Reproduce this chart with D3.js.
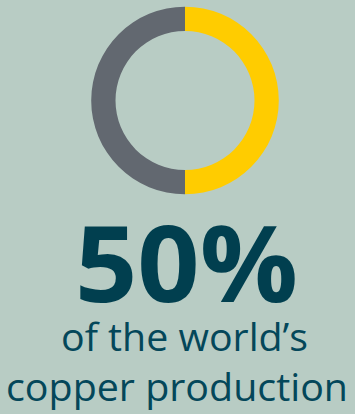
<!DOCTYPE html>
<html>
<head>
<meta charset="utf-8">
<script src="https://d3js.org/d3.v7.min.js"></script>
<style>
  html, body { margin: 0; padding: 0; background: #b8ccc4; }
</style>
</head>
<body>
<div id="chart"></div>
<script>
// share of world copper production
let labels = ["share", "rest"];
let values = [50, 50];
let colors = ["#ffcc00", "#626870"];
let bigText = "50%";
let lines = ["of the world\u2019s", "copper production"];

let w = 355;
let h = 414;

let svg = d3.select("#chart")
  .append("svg")
  .attr("width", w)
  .attr("height", h);

svg.append("rect")
  .attr("width", w)
  .attr("height", h)
  .attr("fill", "#b8ccc4");

let pie = d3.pie()
  .sort(null)
  .value(d => d);

let arc = d3.arc()
  .innerRadius(69.5)
  .outerRadius(93.8);

let donut = svg.append("g")
  .attr("transform", "translate(185,100.5)");

donut.selectAll("path")
  .data(pie(values))
  .enter()
  .append("path")
  .attr("d", arc)
  .attr("fill", (d, i) => colors[i]);

svg.append("text")
  .text(bigText)
  .attr("x", 186.5)
  .attr("y", 302)
  .attr("text-anchor", "middle")
  .attr("font-family", "Open Sans")
  .attr("font-weight", "bold")
  .attr("font-size", 105)
  .attr("textLength", 223)
  .attr("lengthAdjust", "spacingAndGlyphs")
  .attr("fill", "#013f4f");

// line widths
let lineX = [184.5, 177];
let lineW = [247, 342];

svg.selectAll(".sub")
  .data(lines)
  .enter()
  .append("text")
  .attr("class", "sub")
  .text(d => d)
  .attr("x", (d, i) => lineX[i])
  .attr("y", (d, i) => 350.5 + i * 50)
  .attr("text-anchor", "middle")
  .attr("font-family", "Open Sans")
  .attr("font-size", 39)
  .attr("textLength", (d, i) => lineW[i])
  .attr("lengthAdjust", "spacingAndGlyphs")
  .attr("fill", "#04475a");
</script>
</body>
</html>
